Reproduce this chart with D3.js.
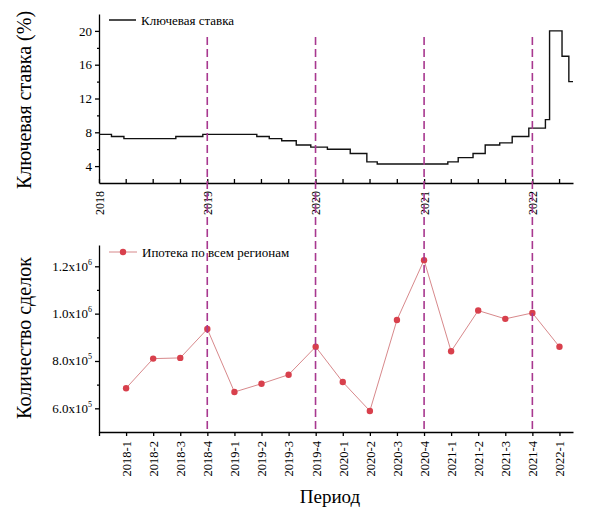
<!DOCTYPE html>
<html>
<head>
<meta charset="utf-8">
<script src="https://cdn.jsdelivr.net/npm/d3@7"></script>
</head>
<body style="margin:0">
<svg id="chart" width="590" height="512" font-family="Liberation Serif" style="font-family: 'Liberation Serif', serif"></svg>
<script>
// key rate steps (date of change, rate %)
var rateDates = ["2018-01-01","2018-02-12","2018-03-26","2018-09-17","2018-12-17","2019-06-17","2019-07-29",
	"2019-09-09","2019-10-28","2019-12-16","2020-02-10","2020-04-27","2020-06-22","2020-07-27","2021-03-22",
	"2021-04-26","2021-06-15","2021-07-26","2021-09-13","2021-10-25","2021-12-20","2022-02-14","2022-02-28",
	"2022-04-11","2022-05-04","2022-05-18"];
var rateValues = [7.75,7.5,7.25,7.5,7.75,7.5,7.25,7,6.5,6.25,6,5.5,4.5,4.25,4.5,5,5.5,6.5,6.75,7.5,8.5,9.5,20,17,14,14];
var rateTicks = [4,8,12,16,20];
var rateMinor = [6,10,14,18];
var yearLines = ["2019-01-01","2020-01-01","2021-01-01","2022-01-01"];

// mortgage deals by quarter
var quarters = ["2018-1","2018-2","2018-3","2018-4","2019-1","2019-2","2019-3","2019-4",
	"2020-1","2020-2","2020-3","2020-4","2021-1","2021-2","2021-3","2021-4","2022-1"];
var deals = [685000,810000,813000,935000,669000,704000,742000,860000,
	711000,589000,973000,1226000,841000,1013000,978000,1003000,860000];
var dealTicks = [600000,800000,1000000,1200000];
var dealMinor = [700000,900000,1100000];

var svg = d3.select("#chart");
var parse = d3.utcParse("%Y-%m-%d");
var dashColor = "#a8388f";

// ---- top panel
var xTop = d3.scaleUtc().domain([parse("2018-01-01"), parse("2022-05-18")]).range([99, 573]);
var yTop = d3.scaleLinear().domain([2, 22]).range([183, 14]);

var quarterDates = [];
for (var y = 2018; y <= 2022; y++) {
	for (var m = 0; m < 12; m += 3) {
		var d = new Date(Date.UTC(y, m, 1));
		if (d <= xTop.domain()[1]) quarterDates.push(d);
	}
}

var gx = svg.append("g").attr("transform", "translate(0,183)")
	.call(d3.axisBottom(xTop).tickValues(quarterDates).tickSizeInner(-4).tickSizeOuter(0)
		.tickFormat(function(d){ return d.getUTCMonth() === 0 ? d.getUTCFullYear() : ""; }));
gx.selectAll("text").attr("transform", "rotate(-90)").attr("text-anchor", "end")
	.attr("x", -8).attr("y", 0).attr("dy", "0.35em").attr("font-size", 12);

var gy = svg.append("g").attr("transform", "translate(99,0)")
	.call(d3.axisLeft(yTop).tickValues(rateTicks).tickSize(4).tickSizeOuter(0));
gy.selectAll("text").attr("font-size", 13);
svg.append("g").attr("transform", "translate(99,0)")
	.call(d3.axisLeft(yTop).tickValues(rateMinor).tickSize(2).tickSizeOuter(0).tickFormat(""))
	.selectAll("path").remove();

var rateData = rateDates.map(function(d, i){ return {date: parse(d), v: rateValues[i]}; });
svg.append("path").datum(rateData)
	.attr("fill", "none").attr("stroke", "#111").attr("stroke-width", 1.4)
	.attr("d", d3.line().curve(d3.curveStepAfter)
		.x(function(d){ return xTop(d.date); }).y(function(d){ return yTop(d.v); }));

// legend top
svg.append("line").attr("x1", 109).attr("x2", 136).attr("y1", 20).attr("y2", 20)
	.attr("stroke", "#000").attr("stroke-width", 1.4);
svg.append("text").attr("x", 141).attr("y", 24.5).attr("font-size", 13).text("Ключевая ставка");

svg.append("text").attr("transform", "translate(31,100) rotate(-90)")
	.attr("text-anchor", "middle").attr("font-size", 20).text("Ключевая ставка (%)");

// ---- bottom panel
var xBot = d3.scaleLinear().domain([-1, 16.5]).range([99, 573]);
var yBot = d3.scaleLinear().domain([500000, 1290000]).range([432, 245]);

var bx = svg.append("g").attr("transform", "translate(0,432)")
	.call(d3.axisBottom(xBot).tickValues(d3.range(-1, quarters.length)).tickSize(4).tickSizeOuter(0)
		.tickFormat(function(i){ return i < 0 ? "" : quarters[i]; }));
bx.selectAll("text").attr("transform", "rotate(-90)").attr("text-anchor", "end")
	.attr("x", -9).attr("y", 0).attr("dy", "0.35em").attr("font-size", 12.5);

var by = svg.append("g").attr("transform", "translate(99,0)")
	.call(d3.axisLeft(yBot).tickValues(dealTicks).tickSize(4).tickSizeOuter(0).tickFormat(""));
svg.append("g").attr("transform", "translate(99,0)")
	.call(d3.axisLeft(yBot).tickValues(dealMinor).tickSize(2).tickSizeOuter(0).tickFormat(""))
	.selectAll("path").remove();

dealTicks.forEach(function(v){
	var e = Math.floor(Math.log10(v));
	var t = svg.append("text").attr("x", 92).attr("y", yBot(v) + 4.5)
		.attr("text-anchor", "end").attr("font-size", 13);
	t.append("tspan").text((v / Math.pow(10, e)).toFixed(1) + "x10");
	t.append("tspan").attr("dy", -6).attr("font-size", 8).text(e);
});

svg.append("path").datum(deals)
	.attr("fill", "none").attr("stroke", "#d27a7e").attr("stroke-width", 0.9)
	.attr("d", d3.line().x(function(d, i){ return xBot(i); }).y(function(d){ return yBot(d); }));

svg.append("g").selectAll("circle").data(deals).join("circle")
	.attr("cx", function(d, i){ return xBot(i); })
	.attr("cy", function(d){ return yBot(d); })
	.attr("r", 3.2).attr("fill", "#d8404c");

// legend bottom
svg.append("line").attr("x1", 109).attr("x2", 137).attr("y1", 252).attr("y2", 252)
	.attr("stroke", "#d27a7e").attr("stroke-width", 0.9);
svg.append("circle").attr("cx", 123).attr("cy", 252).attr("r", 3.2).attr("fill", "#d8404c");
svg.append("text").attr("x", 142).attr("y", 256.5).attr("font-size", 13).text("Ипотека по всем регионам");

svg.append("text").attr("transform", "translate(31,338) rotate(-90)")
	.attr("text-anchor", "middle").attr("font-size", 20).text("Количество сделок");

svg.append("text").attr("x", 330).attr("y", 503)
	.attr("text-anchor", "middle").attr("font-size", 19).text("Период");

// dashed year separators across both panels
svg.append("g").selectAll("line").data(yearLines).join("line")
	.attr("x1", function(d){ return xTop(parse(d)); })
	.attr("x2", function(d){ return xTop(parse(d)); })
	.attr("y1", 37).attr("y2", 432)
	.attr("stroke", dashColor).attr("stroke-width", 1.6).attr("stroke-dasharray", "8,4");

// axis styling and fonts for every text
svg.selectAll("g").filter(function(){ return this.hasAttribute("font-family"); })
	.attr("font-family", null);
svg.selectAll(".domain, .tick line").attr("stroke", "#000").attr("stroke-width", 1.3);
svg.selectAll("text").attr("fill", "#000")
	.attr("font-family", "Liberation Serif")
	.style("font-family", "'Liberation Serif', serif");
</script>
</body>
</html>
